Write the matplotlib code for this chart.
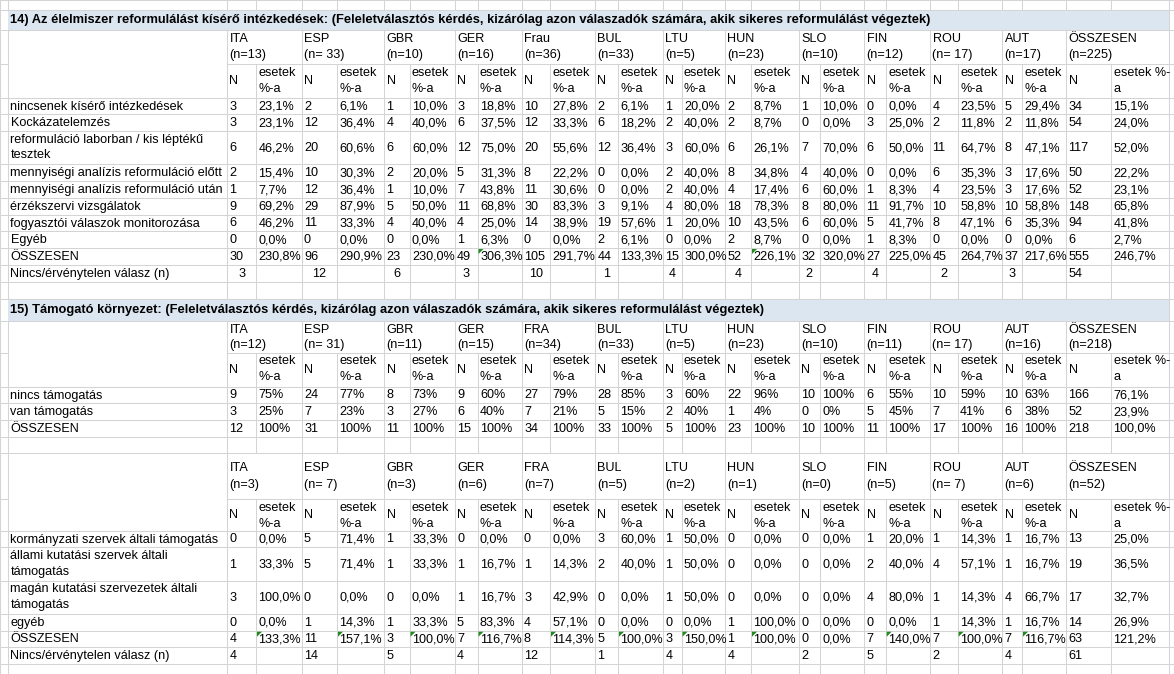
import matplotlib
matplotlib.use("Agg")
import matplotlib.pyplot as plt
from matplotlib.patches import Rectangle, Polygon

# ---------------- data ----------------
title14 = ("14) Az élelmiszer reformulálást kísérő intézkedések: (Feleletválasztós kérdés, "
           "kizárólag azon válaszadók számára, akik sikeres reformulálást végeztek)")
title15 = ("15) Támogató környezet: (Feleletválasztós kérdés, kizárólag azon válaszadók "
           "számára, akik sikeres reformulálást végeztek)")

countries14 = ["ITA", "ESP", "GBR", "GER", "Frau", "BUL", "LTU", "HUN", "SLO", "FIN", "ROU", "AUT", "ÖSSZESEN"]
countries15 = ["ITA", "ESP", "GBR", "GER", "FRA", "BUL", "LTU", "HUN", "SLO", "FIN", "ROU", "AUT", "ÖSSZESEN"]
nlabels14 = ["(n=13)", "(n= 33)", "(n=10)", "(n=16)", "(n=36)", "(n=33)", "(n=5)", "(n=23)",
             "(n=10)", "(n=12)", "(n= 17)", "(n=17)", "(n=225)"]
nlabels15 = ["(n=12)", "(n= 31)", "(n=11)", "(n=15)", "(n=34)", "(n=33)", "(n=5)", "(n=23)",
             "(n=10)", "(n=11)", "(n= 17)", "(n=16)", "(n=218)"]
nlabels16 = ["(n=3)", "(n= 7)", "(n=3)", "(n=6)", "(n=7)", "(n=5)", "(n=2)", "(n=1)",
             "(n=0)", "(n=5)", "(n= 7)", "(n=6)", "(n=52)"]

rows14 = ["nincsenek kísérő intézkedések", "Kockázatelemzés",
          "reformuláció laborban / kis léptékű\ntesztek",
          "mennyiségi analízis reformuláció előtt", "mennyiségi analízis reformuláció után",
          "érzékszervi vizsgálatok", "fogyasztói válaszok monitorozása", "Egyéb", "ÖSSZESEN"]
n14 = [
    [3, 2, 1, 3, 10, 2, 1, 2, 1, 0, 4, 5, 34],
    [3, 12, 4, 6, 12, 6, 2, 2, 0, 3, 2, 2, 54],
    [6, 20, 6, 12, 20, 12, 3, 6, 7, 6, 11, 8, 117],
    [2, 10, 2, 5, 8, 0, 2, 8, 4, 0, 6, 3, 50],
    [1, 12, 1, 7, 11, 0, 2, 4, 6, 1, 4, 3, 52],
    [9, 29, 5, 11, 30, 3, 4, 18, 8, 11, 10, 10, 148],
    [6, 11, 4, 4, 14, 19, 1, 10, 6, 5, 8, 6, 94],
    [0, 0, 0, 1, 0, 2, 0, 2, 0, 1, 0, 0, 6],
    [30, 96, 23, 49, 105, 44, 15, 52, 32, 27, 45, 37, 555],
]
pct14 = [
    [23.1, 6.1, 10.0, 18.8, 27.8, 6.1, 20.0, 8.7, 10.0, 0.0, 23.5, 29.4, 15.1],
    [23.1, 36.4, 40.0, 37.5, 33.3, 18.2, 40.0, 8.7, 0.0, 25.0, 11.8, 11.8, 24.0],
    [46.2, 60.6, 60.0, 75.0, 55.6, 36.4, 60.0, 26.1, 70.0, 50.0, 64.7, 47.1, 52.0],
    [15.4, 30.3, 20.0, 31.3, 22.2, 0.0, 40.0, 34.8, 40.0, 0.0, 35.3, 17.6, 22.2],
    [7.7, 36.4, 10.0, 43.8, 30.6, 0.0, 40.0, 17.4, 60.0, 8.3, 23.5, 17.6, 23.1],
    [69.2, 87.9, 50.0, 68.8, 83.3, 9.1, 80.0, 78.3, 80.0, 91.7, 58.8, 58.8, 65.8],
    [46.2, 33.3, 40.0, 25.0, 38.9, 57.6, 20.0, 43.5, 60.0, 41.7, 47.1, 35.3, 41.8],
    [0.0, 0.0, 0.0, 6.3, 0.0, 6.1, 0.0, 8.7, 0.0, 8.3, 0.0, 0.0, 2.7],
    [230.8, 290.9, 230.0, 306.3, 291.7, 133.3, 300.0, 226.1, 320.0, 225.0, 264.7, 217.6, 246.7],
]
invalid14 = [3, 12, 6, 3, 10, 1, 4, 4, 2, 4, 2, 3, 54]

rows15 = ["nincs támogatás", "van támogatás", "ÖSSZESEN"]
n15 = [
    [9, 24, 8, 9, 27, 28, 3, 22, 10, 6, 10, 10, 166],
    [3, 7, 3, 6, 7, 5, 2, 1, 0, 5, 7, 6, 52],
    [12, 31, 11, 15, 34, 33, 5, 23, 10, 11, 17, 16, 218],
]
pct15 = [
    [75, 77, 73, 60, 79, 85, 60, 96, 100, 55, 59, 63, 76.1],
    [25, 23, 27, 40, 21, 15, 40, 4, 0, 45, 41, 38, 23.9],
    [100, 100, 100, 100, 100, 100, 100, 100, 100, 100, 100, 100, 100.0],
]

rows16 = ["kormányzati szervek általi támogatás", "állami kutatási szervek általi\ntámogatás",
          "magán kutatási szervezetek általi\ntámogatás", "egyéb", "ÖSSZESEN"]
n16 = [
    [0, 5, 1, 0, 0, 3, 1, 0, 0, 1, 1, 1, 13],
    [1, 5, 1, 1, 1, 2, 1, 0, 0, 2, 4, 1, 19],
    [3, 0, 0, 1, 3, 0, 1, 0, 0, 4, 1, 4, 17],
    [0, 1, 1, 5, 4, 0, 0, 1, 0, 0, 1, 1, 14],
    [4, 11, 3, 7, 8, 5, 3, 1, 0, 7, 7, 7, 63],
]
pct16 = [
    [0.0, 71.4, 33.3, 0.0, 0.0, 60.0, 50.0, 0.0, 0.0, 20.0, 14.3, 16.7, 25.0],
    [33.3, 71.4, 33.3, 16.7, 14.3, 40.0, 50.0, 0.0, 0.0, 40.0, 57.1, 16.7, 36.5],
    [100.0, 0.0, 0.0, 16.7, 42.9, 0.0, 50.0, 0.0, 0.0, 80.0, 14.3, 66.7, 32.7],
    [0.0, 14.3, 33.3, 83.3, 57.1, 0.0, 0.0, 100.0, 0.0, 0.0, 14.3, 16.7, 26.9],
    [133.3, 157.1, 100.0, 116.7, 114.3, 100.0, 150.0, 100.0, 0.0, 140.0, 100.0, 116.7, 121.2],
]
invalid16 = [4, 14, 5, 4, 12, 1, 4, 4, 2, 5, 2, 4, 61]
invalid_label = "Nincs/érvénytelen válasz (n)"

# cells flagged with Excel's green error triangle (ÖSSZESEN rows, pct column)
flag14 = ["GER", "HUN"]
flag16 = ["ITA", "ESP", "GBR", "GER", "FRA", "BUL", "LTU", "HUN", "FIN", "ROU", "AUT"]

# ---------------- layout ----------------
W, H = 1174, 674
X = [0, 8, 227, 256, 301.5, 337, 384, 409.5, 454.5, 477.5, 521.5, 550, 595, 618, 663,
     681.5, 725, 751, 798.5, 820, 864, 885.7, 930, 957.6, 1002, 1022, 1066, 1111, 1169, 1174]
GRID = "#d4d4d4"
BAND = "#dce6f1"
FONT = ["Liberation Sans Narrow", "Liberation Sans", "DejaVu Sans"]
FS = 9.1
TFS = 9.3

fig = plt.figure(figsize=(W / 100, H / 100), dpi=100)
ax = fig.add_axes([0, 0, 1, 1])
ax.set_xlim(0, W)
ax.set_ylim(H, 0)
ax.axis("off")


def hline(y, x0=0, x1=W):
    ax.plot([x0, x1], [y, y], color=GRID, lw=0.75, solid_capstyle="butt", zorder=1)


def vline(x, y0, y1):
    ax.plot([x, x], [y0, y1], color=GRID, lw=0.75, solid_capstyle="butt", zorder=1)


def txt(x, y, s, ha="left", bold=False, size=None):
    ax.text(x, y, s, ha=ha, va="center", fontsize=size or FS, family=FONT,
            fontweight="bold" if bold else "normal", color="black", zorder=3)


def fmt_pct(v, dec):
    return (f"{v:.{dec}f}".replace(".", ",")) + "%"


def plain_row(y0, y1):
    hline(y1)
    for x in X:
        vline(x, y0, y1)


def title_row(y0, y1, text):
    hline(y1)
    for x in (X[0], X[-2], X[-1]):
        vline(x, y0, y1)
    ax.add_patch(Rectangle((X[1], y0 + 0.5), X[-2] - X[1], y1 - y0 - 1, facecolor=BAND,
                           edgecolor="none", zorder=2))
    txt(X[1] + 2.5, (y0 + y1) / 2 + 0.5, text, bold=True, size=TFS)


def header_rows(y0, ym, y1, names, nlabels, off1, off2):
    # row 1: merged country cells ; rows 1-2: merged label cell
    hline(ym, X[2], W)
    hline(ym, X[0], X[1])
    hline(y1)
    vline(X[0], y0, y1)
    vline(X[1], y0, y1)
    for i in range(len(X) - 2):
        x = X[i + 2]
        if i % 2 == 0:
            vline(x, y0, y1)
        else:
            vline(x, ym, y1)
    vline(X[-1], y0, y1)
    for i, (nm, nl) in enumerate(zip(names, nlabels)):
        x0 = X[2 + 2 * i]
        txt(x0 + 2.5, y0 + off1, nm)
        txt(x0 + 2.5, y0 + off2, nl)
        xp = X[3 + 2 * i]
        txt(x0 + 2.5, (ym + y1) / 2, "N")
        if i == len(names) - 1:
            txt(xp + 2.5, ym + 8.5, "esetek %-")
            txt(xp + 2.5, ym + 24.5, "a")
        else:
            txt(xp + 2.5, ym + 8.5, "esetek")
            txt(xp + 2.5, ym + 24.5, "%-a")


def data_row(y0, y1, label, nvals, pvals, decs, flags=(), names=()):
    plain_row(y0, y1)
    yc = (y0 + y1) / 2 + 0.5
    if "\n" in label:
        a, b = label.split("\n")
        txt(X[1] + 2.5, y0 + 8.5, a)
        txt(X[1] + 2.5, y0 + 24.5, b)
    else:
        txt(X[1] + 2.5, yc, label)
    for i, (nv, pv) in enumerate(zip(nvals, pvals)):
        x0 = X[2 + 2 * i]
        xp = X[3 + 2 * i]
        txt(x0 + 2.5, yc, str(nv))
        txt(xp + 2.5, yc, fmt_pct(pv, decs[i]))
        if names and names[i] in flags:
            ax.add_patch(Polygon([(xp + 1, y0 + 1), (xp + 6, y0 + 1), (xp + 1, y0 + 6)],
                                 closed=True, facecolor="#1f8a1f", edgecolor="none", zorder=4))


def invalid_row(y0, y1, vals, centered):
    plain_row(y0, y1)
    yc = (y0 + y1) / 2 + 0.5
    txt(X[1] + 2.5, yc, invalid_label)
    for i, v in enumerate(vals):
        x0, x1 = X[2 + 2 * i], X[3 + 2 * i]
        if centered and i < len(vals) - 1:
            txt((x0 + x1) / 2, yc, str(v), ha="center")
        else:
            txt(x0 + 2.5, yc, str(v))


dec1 = [1] * 13
dec15 = [0] * 12 + [1]

# top empty row
hline(0)
plain_row(-5, 10)
hline(10)

# ---- section 14 ----
title_row(10, 30, title14)
header_rows(30, 64, 98, countries14, nlabels14, 8.5, 25)
ys14 = [98, 114.3, 131, 164.3, 181.3, 198, 214.7, 231.3, 248, 264.7]
for r, lab in enumerate(rows14):
    data_row(ys14[r], ys14[r + 1], lab, n14[r], pct14[r], dec1,
             flags=flag14 if lab == "ÖSSZESEN" else (), names=countries14)
invalid_row(264.7, 282.3, invalid14, centered=True)
plain_row(282.3, 299)

# ---- section 15 ----
title_row(299, 321, title15)
header_rows(321, 353, 386.7, countries15, nlabels15, 9, 24)
ys15 = [386.7, 403.3, 420, 436.7]
for r, lab in enumerate(rows15):
    data_row(ys15[r], ys15[r + 1], lab, n15[r], pct15[r], dec15)
plain_row(436.7, 453.3)

# ---- section 16 ----
header_rows(453.3, 499.3, 530.7, countries15, nlabels16, 15, 32)
ys16 = [530.7, 547.3, 580.7, 614, 630.7, 647.3]
for r, lab in enumerate(rows16):
    data_row(ys16[r], ys16[r + 1], lab, n16[r], pct16[r], dec1,
             flags=flag16 if lab == "ÖSSZESEN" else (), names=countries15)
invalid_row(647.3, 664, invalid16, centered=False)
plain_row(664, 680)

fig.savefig("out.png", dpi=100, facecolor="white")
